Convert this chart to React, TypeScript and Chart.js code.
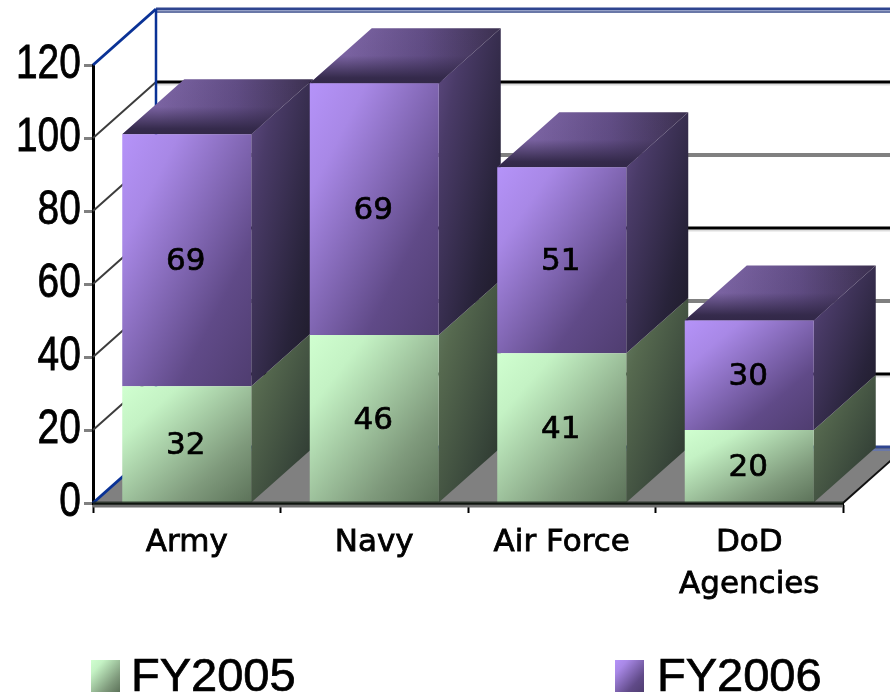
import { useEffect, useRef } from "react";
import { Chart, registerables } from "chart.js";

Chart.register(...registerables);

const categories: (string | string[])[] = ["Army", "Navy", "Air Force", ["DoD", "Agencies"]];
const fy2005 = [32, 46, 41, 20];
const fy2006 = [69, 69, 51, 30];
const seriesNames = ["FY2005", "FY2006"];
const yMax = 120;
const yStep = 20;

const DX = 62;
const DY = 55;
const WALL_DX = 63;
const WALL_DY = 56;
const BLUE = "#0a3296";
const Y_LABEL_SQUEEZE = 0.81;

const FRONT = [
  ["#d0ffd0", "#c4f2c4", "#7f9a7c", "#5c7259"],
  ["#b593f9", "#a888e6", "#604a88", "#4f3d70"],
];
const SIDE = [
  ["#667d63", "#56694f", "#38463a", "#29322a"],
  ["#604b84", "#4a3b68", "#28233a", "#1d1a27"],
];

function diag(ctx: CanvasRenderingContext2D, x: number, y: number, w: number, h: number, cols: string[]) {
  const d = w * w + h * h;
  if (![x, y, w, h].every(Number.isFinite) || d === 0) return cols[0];
  const k = (2 * w * h) / d;
  const g = ctx.createLinearGradient(x, y, x + h * k, y + w * k);
  g.addColorStop(0, cols[0]);
  g.addColorStop(0.22, cols[1]);
  g.addColorStop(0.72, cols[2]);
  g.addColorStop(1, cols[3]);
  return g;
}

function poly(ctx: CanvasRenderingContext2D, pts: number[][], fill: any) {
  ctx.beginPath();
  pts.forEach((p, i) => (i ? ctx.lineTo(p[0], p[1]) : ctx.moveTo(p[0], p[1])));
  ctx.closePath();
  ctx.fillStyle = fill;
  ctx.fill();
}

function line(ctx: CanvasRenderingContext2D, a: number[], b: number[], color: string, width: number) {
  ctx.beginPath();
  ctx.moveTo(a[0], a[1]);
  ctx.lineTo(b[0], b[1]);
  ctx.strokeStyle = color;
  ctx.lineWidth = width;
  ctx.stroke();
}

const wallPlugin = {
  id: "wall3d",
  beforeDraw(chart: any) {
    // the reference's value-axis digits are horizontally condensed
    const y = chart.scales.y;
    if (y.__squeezed) return;
    y.__squeezed = true;
    const orig = y.drawLabels.bind(y);
    y.drawLabels = (area: any) => {
      const c = chart.ctx;
      const ax = 80;
      c.save();
      c.translate(ax, 0);
      c.scale(Y_LABEL_SQUEEZE, 1);
      c.translate(-ax, 0);
      orig(area);
      c.restore();
    };
  },
  beforeDatasetsDraw(chart: any) {
    const { ctx, scales } = chart;
    const y = scales.y;
    const x = scales.x;
    const W = chart.width;
    ctx.save();
    const y0 = y.getPixelForValue(0);
    poly(ctx, [
      [x.left, y0],
      [x.right, y0],
      [x.right + WALL_DX, y0 - WALL_DY],
      [x.left + WALL_DX, y0 - WALL_DY],
    ], "#808080");
    line(ctx, [x.right, y0], [x.right + WALL_DX, y0 - WALL_DY], "#111111", 2);
    y.ticks.forEach((t: any, i: number) => {
      const py = y.getPixelForValue(t.value);
      const by = py - WALL_DY;
      const edge = t.value === 0 || t.value === yMax;
      if (edge) {
        line(ctx, [x.left, py], [x.left + WALL_DX, by], BLUE, 3);
        line(ctx, [x.left + WALL_DX, by + 3], [W, by + 3], "#6a78a8", 2);
        line(ctx, [x.left + WALL_DX, by], [W, by], "#2f4590", 3);
      } else if (i % 2 === 1) {
        line(ctx, [x.left, py], [x.left + WALL_DX, by], "#3c3c3c", 2);
        line(ctx, [x.left + WALL_DX, by + 2.5], [W, by + 2.5], "#dddddd", 2);
        line(ctx, [x.left + WALL_DX, by], [W, by], "#000000", 3);
      } else {
        line(ctx, [x.left, py], [x.left + WALL_DX, by], "#3c3c3c", 2);
        line(ctx, [x.left + WALL_DX, by], [W, by], "#808080", 4);
      }
    });
    line(ctx, [x.left + WALL_DX, y.top - WALL_DY], [x.left + WALL_DX, y0 - WALL_DY], BLUE, 2.5);

    // side and top faces of each bar, from the bar elements themselves
    const n = chart.data.labels.length;
    for (let i = 0; i < n; i++) {
      chart.data.datasets.forEach((_: any, d: number) => {
        const el = chart.getDatasetMeta(d).data[i];
        const l = el.x - el.width / 2;
        const r = el.x + el.width / 2;
        const t = el.y;
        const b = el.base;
        poly(ctx, [
          [r, t],
          [r + DX, t - DY],
          [r + DX, b - DY],
          [r, b],
        ], diag(ctx, r, t - DY, DX, b - t + DY, SIDE[d]));
        if (d === chart.data.datasets.length - 1) {
          const pts = [
            [l, t],
            [r, t],
            [r + DX, t - DY],
            [l + DX, t - DY],
          ];
          const g = ctx.createLinearGradient(l + DX * 0.6, 0, r + DX, 0);
          g.addColorStop(0, "#7d65a5");
          g.addColorStop(0.5, "#614d85");
          g.addColorStop(1, "#3b304f");
          poly(ctx, pts, g);
          const v = ctx.createLinearGradient(0, t - DY, 0, t);
          v.addColorStop(0, "rgba(50,40,72,0)");
          v.addColorStop(0.5, "rgba(50,40,72,0.05)");
          v.addColorStop(0.9, "rgba(50,40,72,0.95)");
          v.addColorStop(1, "rgba(50,40,72,1)");
          poly(ctx, pts, v);
        }
      });
    }
    ctx.restore();
  },
  afterDatasetsDraw(chart: any) {
    const { ctx, scales } = chart;
    const x = scales.x;
    const y0 = scales.y.getPixelForValue(0);
    ctx.save();
    // underside of the x axis
    line(ctx, [x.left, y0 + 3], [x.right, y0 + 3], "#707070", 3);
    line(ctx, [x.left, y0], [x.right, y0], "rgba(20,30,20,0.75)", 3);
    // value labels
    ctx.fillStyle = "#000000";
    ctx.strokeStyle = "#000000";
    ctx.lineWidth = 0.7;
    ctx.font = "31px 'DejaVu Sans'";
    ctx.textAlign = "center";
    ctx.textBaseline = "middle";
    chart.data.datasets.forEach((ds: any, d: number) => {
      chart.getDatasetMeta(d).data.forEach((el: any, i: number) => {
        const label = String(ds.data[i]);
        const ly = (el.y + el.base) / 2 + 2;
        ctx.strokeText(label, el.x - 1, ly);
        ctx.fillText(label, el.x - 1, ly);
      });
    });
    // legend
    const boxX = [91, 615];
    const textX = [131, 657];
    chart.data.datasets.forEach((ds: any, d: number) => {
      ctx.fillStyle = diag(ctx, boxX[d], 660, 29, 32, FRONT[d]);
      ctx.fillRect(boxX[d], 660, 29, 32);
      ctx.fillStyle = "#000000";
      ctx.font = "47px 'Liberation Sans'";
      ctx.textAlign = "left";
      ctx.textBaseline = "alphabetic";
      ctx.strokeText(ds.label, textX[d], 691);
      ctx.fillText(ds.label, textX[d], 691);
    });
    ctx.restore();
  },
};

function frontColor(d: number) {
  return (c: any) => {
    const { chart, dataIndex } = c;
    const { x, y } = chart.scales;
    if (!x || !y || dataIndex === undefined) return FRONT[d][0];
    const series = [fy2005, fy2006];
    const start = d === 0 ? 0 : fy2005[dataIndex];
    const end = start + series[d][dataIndex];
    const top = y.getPixelForValue(end);
    const bottom = y.getPixelForValue(start);
    const cx = x.getPixelForValue(dataIndex);
    const w = (x.width / categories.length) * 0.688;
    return diag(chart.ctx, cx - w / 2, top, w, bottom - top, FRONT[d]);
  };
}

export default function App() {
  const ref = useRef<HTMLCanvasElement>(null);
  useEffect(() => {
    if (!ref.current) return;
    const chart = new Chart(ref.current, {
      type: "bar",
      data: {
        labels: categories as any,
        datasets: [
          { label: seriesNames[0], data: fy2005, backgroundColor: frontColor(0) as any },
          { label: seriesNames[1], data: fy2006, backgroundColor: frontColor(1) as any },
        ],
      },
      options: {
        responsive: false,
        animation: false,
        layout: { padding: { top: 65, right: 47, left: 0, bottom: 0 } },
        datasets: { bar: { barPercentage: 0.688, categoryPercentage: 1 } },
        plugins: { legend: { display: false }, tooltip: { enabled: false }, title: { display: false } },
        scales: {
          x: {
            stacked: true,
            afterFit: (s: any) => { s.height = 192; },
            grid: { offset: true, drawOnChartArea: false, tickColor: "#000000", tickLength: 10, tickWidth: 2 },
            border: { color: "#000000", width: 3 },
            ticks: {
              color: "#000000",
              textStrokeColor: "#000000",
              textStrokeWidth: 0.8,
              font: { family: "'DejaVu Sans'", size: 31, lineHeight: 1.35 },
              padding: 9,
              maxRotation: 0,
              autoSkip: false,
            },
          },
          y: {
            stacked: true,
            min: 0,
            max: yMax,
            afterFit: (s: any) => { s.width = 93; },
            grid: { drawOnChartArea: false, tickColor: "#808080", tickLength: 9, tickWidth: 3 },
            border: { color: "#000000", width: 3 },
            ticks: {
              stepSize: yStep,
              color: "#000000",
              textStrokeColor: "#000000",
              textStrokeWidth: 0.8,
              font: { family: "'Liberation Sans'", size: 48 },
              padding: 3,
            },
          },
        },
      },
      plugins: [wallPlugin],
    } as any);
    return () => chart.destroy();
  }, []);
  return (
    <div style={{ position: "fixed", left: 0, top: 0, width: 890, height: 695, background: "#ffffff", overflow: "hidden" }}>
      <canvas ref={ref} width={890} height={695} style={{ display: "block" }} />
    </div>
  );
}
